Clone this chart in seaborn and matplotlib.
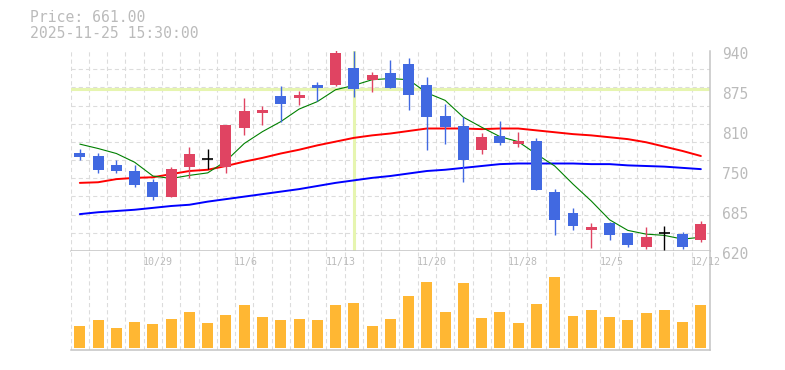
#!/usr/bin/env python3
"""
Daily candlestick chart with moving averages and volume panel.
"""

import numpy as np
import pandas as pd
import matplotlib
matplotlib.use("Agg")
import matplotlib.pyplot as plt
import matplotlib.transforms as mtransforms
import seaborn as sns

# --- data (35 trading days, 10/23 .. 12/12) ---
open_px = [777, 772, 758, 748, 730, 706, 754, 767, 755, 817, 841, 868, 865, 886, 886, 913, 894, 905,
           919, 886, 836, 820, 781, 804, 792, 796, 714, 681, 654, 665, 649, 627, 649, 647, 638]
high_px = [783, 777, 766, 758, 735, 754, 786, 783, 822, 865, 852, 884, 876, 890, 941, 940, 906, 926,
           929, 898, 855, 835, 809, 828, 810, 801, 719, 689, 665, 666, 649, 658, 660, 650, 668]
low_px = [766, 745, 745, 722, 702, 706, 737, 751, 745, 806, 821, 826, 854, 860, 884, 867, 875, 881,
          846, 781, 792, 731, 776, 790, 787, 717, 645, 654, 625, 638, 627, 624, 622, 624, 635]
close_px = [771, 750, 748, 725, 706, 751, 775, 767, 822, 844, 846, 855, 870, 881, 937, 880, 902, 881,
            869, 835, 819, 766, 802, 793, 796, 717, 670, 660, 658, 646, 629, 642, 649, 627, 663]

ma_short = [791, 784, 776, 762, 740, 736, 741, 745, 764, 792, 811, 827, 847, 859, 878, 885, 894, 896,
            894, 873, 861, 834, 818, 803, 795, 775, 756, 727, 700, 670, 653, 647, 645, 639, 642]
ma_mid = [729, 730, 735, 737, 738, 743, 748, 750, 756, 763, 769, 776, 782, 789, 795, 801, 805, 808,
          812, 816, 816, 816, 815, 816, 816, 813, 810, 807, 805, 802, 799, 794, 787, 780, 772]
ma_long = [679, 682, 684, 686, 689, 692, 694, 699, 703, 707, 711, 715, 719, 724, 729, 733, 737, 740,
           744, 748, 750, 753, 756, 759, 760, 760, 760, 760, 759, 759, 757, 756, 755, 753, 751]

volume = [21.7, 27.7, 19.7, 25.7, 23.7, 28.7, 35.7, 24.7, 32.7, 42.7, 30.7, 27.7, 28.7, 27.7, 42.7,
          44.7, 21.7, 28.7, 51.7, 65.7, 35.7, 64.7, 29.7, 35.7, 24.7, 43.7, 70.7, 31.7, 37.7, 30.7,
          27.7, 34.7, 37.7, 25.7, 42.7]

date_labels = ["10/29", "11/6", "11/13", "11/20", "11/28", "12/5", "12/12"]
date_pos = [4, 9, 14, 19, 24, 29, 34]

ytick_vals = [620, 684, 748, 812, 876, 940]
ytick_labels = ["620", "685", "750", "810", "875", "940"]

cursor_idx = 15
cursor_price = 880
info_lines = ["Price: 661.00", "2025-11-25 15:30:00"]

RED = "#e04462"
BLUE = "#4169e1"
VOL = "#ffb733"
HILITE = "#e6f5b0"
GRID = "#dcdcdc"
SPINE = "#c4c4c4"
TEXT = "#bbbbbb"

sns.set_style("white")
plt.rcParams['font.family'] = ['DejaVu Sans Mono']
plt.rcParams['lines.scale_dashes'] = False

W, H = 785, 370
fig = plt.figure(figsize=(W / 100, H / 100), dpi=100)
left, right = 70.7, 710
ax = fig.add_axes([left / W, 1 - 251 / H, (right - left) / W, 200 / H])
axv = fig.add_axes([left / W, 1 - 350 / H, (right - left) / W, 99 / H])

df = pd.DataFrame(dict(i=np.arange(len(close_px)), open=open_px, high=high_px,
                       low=low_px, close=close_px))

# highlight cross-hair
ax.axhline(cursor_price, color=HILITE, lw=2.2, zorder=1)
ax.axvline(cursor_idx, color=HILITE, lw=2.2, zorder=1)

# moving averages
sns.lineplot(x=df['i'], y=ma_long, color="#0000ff", lw=1.4, ax=ax, zorder=2)
sns.lineplot(x=df['i'], y=ma_mid, color="#ff0000", lw=1.4, ax=ax, zorder=2)
sns.lineplot(x=df['i'], y=ma_short, color="#008000", lw=0.8, ax=ax, zorder=2)

# candles
for mask, col in [(df.close > df.open, RED), (df.close < df.open, BLUE)]:
    d = df[mask]
    ax.vlines(d.i, d.low, d.high, color=col, lw=1.0, zorder=3)
    ax.bar(d.i, (d.close - d.open).abs(), bottom=d[['open', 'close']].min(axis=1),
           width=0.6, color=col, linewidth=0, zorder=4)
d = df[df.close == df.open]
ax.vlines(d.i, d.low, d.high, color="black", lw=1.0, zorder=3)
ax.hlines(d.close, d.i - 0.3, d.i + 0.3, color="black", lw=1.2, zorder=4)

# volume
sns.barplot(x=df['i'], y=volume, color=VOL, width=0.6, saturation=1, linewidth=0, ax=axv)

for a in (ax, axv):
    a.set_xlim(-0.5, 34.5)
    a.set_xlabel("")
    a.set_ylabel("")
    a.set_xticks([])
    a.set_xticks(np.arange(-0.5, 35, 1), minor=True)
    a.set_axisbelow(True)
    a.spines['left'].set_visible(False)
    a.spines['top'].set_visible(False)
    for s in ('right', 'bottom'):
        a.spines[s].set_color(SPINE)
        a.spines[s].set_linewidth(1.1)
    a.tick_params(which='both', length=0)

ax.set_ylim(620, 940)
ax.set_yticks(np.linspace(620, 940, 12), minor=True)
ax.set_yticks(ytick_vals)
ax.set_yticklabels(ytick_labels)
ax.yaxis.tick_right()
ax.tick_params(axis='y', which='major', pad=9, labelsize=10.5, labelcolor=TEXT)
ax.grid(which='minor', color=GRID, linestyle=(0, (3, 2.2)), linewidth=0.8)
ax.grid(which='major', visible=False)
offset = mtransforms.ScaledTranslation(0, -2 / 100, fig.dpi_scale_trans)
for lab in ax.get_yticklabels():
    lab.set_transform(lab.get_transform() + offset)

axv.set_ylim(-2.3, 96.7)
axv.set_yticks([])
axv.grid(which='minor', axis='x', color=GRID, linestyle=(0, (3, 2.2)), linewidth=0.8)
axv.grid(which='major', visible=False)

trans = mtransforms.blended_transform_factory(axv.transData, axv.transAxes)
for pos, lab in zip(date_pos, date_labels):
    axv.text(pos - 0.56, 0.885, lab, transform=trans, ha='left', va='center',
             fontsize=7.2, color=TEXT)

fig.text(30 / W, 1 - 17.5 / H, info_lines[0], fontsize=10.6, color=TEXT, va='center')
fig.text(30 / W, 1 - 33.5 / H, info_lines[1], fontsize=10.6, color=TEXT, va='center')

fig.savefig("out.png", dpi=100)
